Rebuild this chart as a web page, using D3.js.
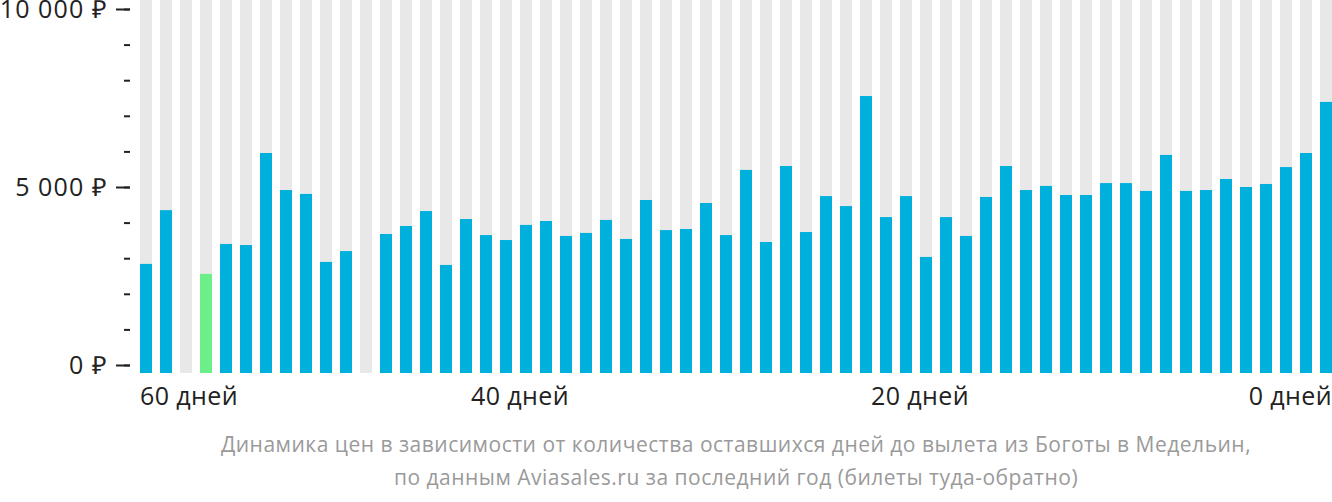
<!DOCTYPE html>
<html>
<head>
<meta charset="utf-8">
<script src="https://cdn.jsdelivr.net/npm/d3@7"></script>
<style>
  body { margin: 0; background: #fff; }
  svg { display: block; font-family: "Open Sans", sans-serif; }
</style>
</head>
<body>
<svg id="chart" width="1332" height="502"></svg>
<script>
// дни до вылета, слева направо
var days = d3.range(59, -1, -1);
// цены (null - нет данных)
var prices = [
  2840, 4350, null, 2560, 3400, 3370, 5955, 4915, 4805, 2895,
  3200, null, 3680, 3905, 4325, 2810, 4100, 3650, 3510, 3935,
  4045, 3625, 3710, 4075, 3540, 4635, 3790, 3820, 4550, 3650,
  5480, 3455, 5590, 3735, 4745, 4465, 7555, 4155, 4745, 3035,
  4155, 3625, 4720, 5590, 4915, 5030, 4775, 4775, 5110, 5110,
  4890, 5900, 4890, 4915, 5225, 5000, 5085, 5560, 5955, 7390
];
var minorTicks = d3.range(0, 10001, 1000);
var majorTicks = [0, 5000, 10000];
var dayTicks = [60, 40, 20, 0];
var caption = [
  "Динамика цен в зависимости от количества оставшихся дней до вылета из Боготы в Медельин,",
  "по данным Aviasales.ru за последний год (билеты туда-обратно)"
];

var svg = d3.select("#chart");
var left = 140, right = 1340, bottom = 373;

var x = d3.scaleBand().domain(days).range([left, right])
    .paddingInner(0.4).paddingOuter(0.2).align(0);
var y = d3.scaleLinear().domain([0, 10000]).range([365, 9]);

var minVal = d3.min(prices.filter(function(d){ return d != null; }));

// серые подложки
svg.append("g").selectAll("rect").data(days).enter().append("rect")
    .attr("x", function(d){ return x(d); })
    .attr("y", 0)
    .attr("width", x.bandwidth())
    .attr("height", bottom)
    .attr("fill", "#e8e8e8");

// столбцы цен
var bars = svg.append("g");
prices.forEach(function(v, i){
    if (v == null) return;
    bars.append("rect")
        .attr("x", x(days[i]))
        .attr("y", y(v))
        .attr("width", x.bandwidth())
        .attr("height", bottom - y(v))
        .attr("fill", v == minVal ? "#6cef88" : "#00b0dc");
});

// ось Y
var fmt = function(v){ return d3.format(",")(v).replace(/,/g, " ") + " ₽"; };
var axisX = 130;
var minor = svg.append("g").attr("transform", "translate(" + axisX + ",0)")
    .call(d3.axisLeft(y).tickValues(minorTicks).tickSize(6).tickFormat(""));
var major = svg.append("g").attr("transform", "translate(" + axisX + ",0)")
    .call(d3.axisLeft(y).tickValues(majorTicks).tickSize(14).tickPadding(8).tickFormat(fmt));
[minor, major].forEach(function(g){
    g.select(".domain").remove();
    g.selectAll("line").attr("stroke", "#222").attr("stroke-width", 2);
    g.selectAll("text").attr("font-size", 25).attr("fill", "#222")
        .attr("letter-spacing", "1.1px")
        .attr("font-family", "Open Sans, sans-serif");
});

// подписи дней
svg.append("g").selectAll("text").data(dayTicks).enter().append("text")
    .attr("x", function(d, i){
        if (i == 0) return left;
        if (i == dayTicks.length - 1) return 1332;
        return x(d);
    })
    .attr("y", 405)
    .attr("text-anchor", function(d, i){
        return i == 0 ? "start" : (i == dayTicks.length - 1 ? "end" : "middle");
    })
    .attr("font-size", 25)
    .attr("letter-spacing", "0.4px")
    .attr("fill", "#222")
    .text(function(d){ return d + " дней"; });

// подпись снизу
svg.append("g").selectAll("text").data(caption).enter().append("text")
    .attr("x", 736)
    .attr("y", function(d, i){ return 452 + i * 33; })
    .attr("text-anchor", "middle")
    .attr("font-size", 21)
    .attr("letter-spacing", "0.5px")
    .attr("fill", "#9a9a9a")
    .text(function(d){ return d; });
</script>
</body>
</html>
